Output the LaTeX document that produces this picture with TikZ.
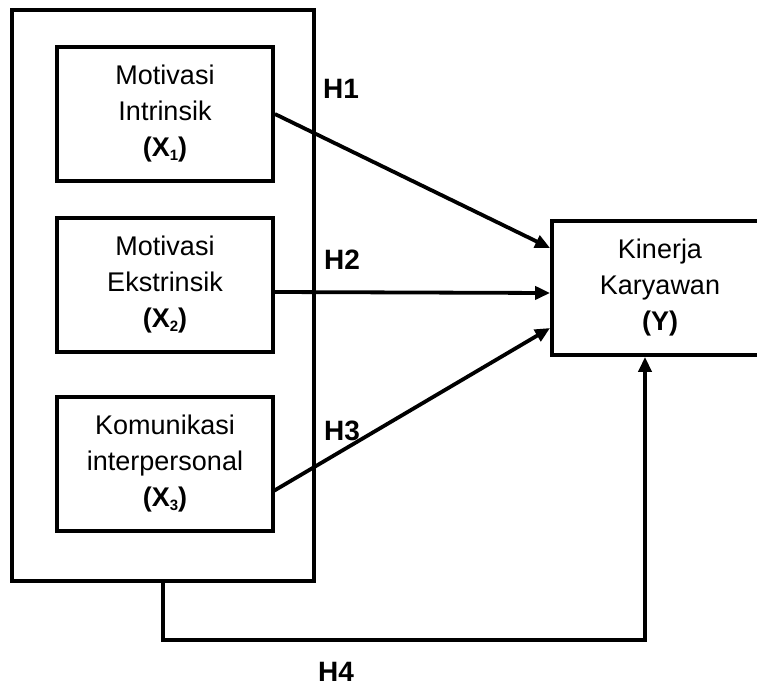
\documentclass[tikz,border=0pt]{standalone}
\usepackage{fontspec}
\setmainfont{Liberation Sans}
\usetikzlibrary{arrows.meta,positioning,calc}

\newcommand{\lowidx}[1]{\raisebox{-0.25ex}{\fontsize{15}{15}\selectfont #1}}

\begin{document}
\begin{tikzpicture}[x=1pt, y=-1pt, font=\fontsize{27}{36}\selectfont]
\tikzset{
  varbox/.style ={draw, line width=3.8pt, align=center, minimum width=216pt,
                  minimum height=134pt, inner sep=0pt},
  grpbox/.style ={draw, line width=3.8pt, minimum width=302pt, minimum height=571pt},
  hlab/.style   ={font=\fontsize{28}{28}\selectfont\bfseries, inner sep=1pt},
  link/.style   ={-{Triangle[length=15pt,width=13pt]}, line width=3.8pt}
}
\useasboundingbox (0,0) rectangle (757,690);
\node (grp)[grpbox] at (163,295.5) {};
\node (x1)[varbox] at (165,114) {Motivasi\\Intrinsik\\\textbf{(X\lowidx{1})}};
\node (x2)[varbox] at (165,285) {Motivasi\\Ekstrinsik\\\textbf{(X\lowidx{2})}};
\node (x3)[varbox] at (165,464) {Komunikasi\\interpersonal\\\textbf{(X\lowidx{3})}};
\node (y)[varbox] at (660,288) {Kinerja\\Karyawan\\\textbf{(Y)}};
\node (h1)[hlab] at (341,89) {H1};
\node (h2)[hlab] at (342,260) {H2};
\node (h3)[hlab] at (342,431) {H3};
\node (h4)[hlab] at (336,672) {H4};
\draw[link] (x1.east) -- ($(y.west)+(0,-40)$);
\draw[link] ($(x2.east)+(0,7)$) -- ($(y.west)+(0,5)$);
\draw[link] ($(x3.east)+(-3,28)$) -- ($(y.west)+(0,40)$);
\draw[link] (grp.south) -- ++(0,57) -| ($(y.south)+(-15,0)$);
\end{tikzpicture}
\end{document}
